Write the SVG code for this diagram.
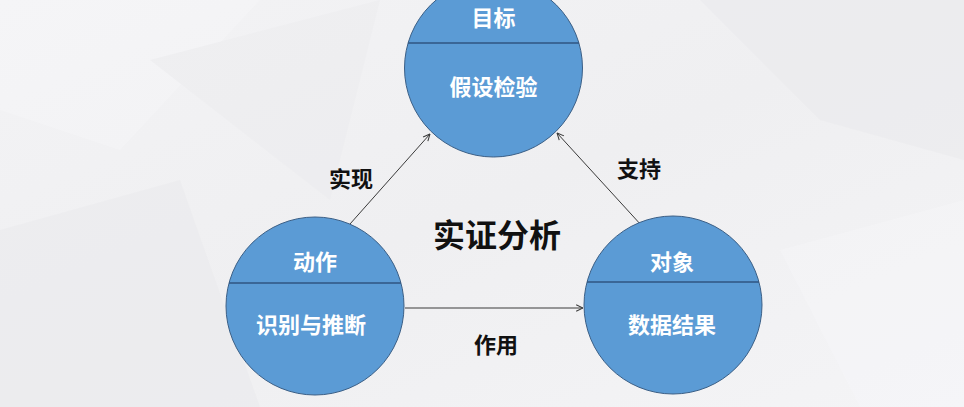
<svg xmlns="http://www.w3.org/2000/svg" width="964" height="407" viewBox="0 0 964 407">
<defs>
<linearGradient id="bg" x1="0" y1="0" x2="1" y2="1">
<stop offset="0" stop-color="#f3f3f5"/>
<stop offset="0.5" stop-color="#efeff1"/>
<stop offset="1" stop-color="#f4f4f6"/>
</linearGradient>
<marker id="arr" viewBox="0 0 10 10" refX="9.5" refY="5" markerWidth="8" markerHeight="8" markerUnits="userSpaceOnUse" orient="auto">
<path d="M1,1 L9.5,5 L1,9" fill="none" stroke="#3a3a3a" stroke-width="1.3"/>
</marker>
<style>
.node circle{fill:#5b9bd5;stroke:#3b5f86;stroke-width:1}
.node line{stroke:#2f5581;stroke-width:1.6}
.wt{font-family:"Noto Sans CJK SC","Noto Sans",sans-serif;font-weight:700;font-size:22px;fill:#ffffff;text-anchor:middle;dominant-baseline:central}
.bt{font-family:"Noto Sans CJK SC","Noto Sans",sans-serif;font-weight:700;font-size:22px;fill:#111111;text-anchor:middle;dominant-baseline:central}
.conn line{stroke:#3a3a3a;stroke-width:1;marker-end:url(#arr)}
</style>
</defs>
<rect width="964" height="407" fill="url(#bg)"/>
<g opacity="0.3">
<polygon points="0,0 260,0 120,150 0,110" fill="#fafafc"/>
<polygon points="700,0 964,0 964,160 820,120" fill="#e6e6e9"/>
<polygon points="0,230 180,180 260,407 0,407" fill="#e6e6e9"/>
<polygon points="780,250 964,200 964,407 860,407" fill="#fafafc"/>
<polygon points="150,60 380,0 330,200" fill="#e9e9ec"/>
</g>
<g class="conn" id="connectors">
<line x1="350" y1="224" x2="430" y2="134"/>
<line x1="642" y1="226" x2="557" y2="133"/>
<line x1="405" y1="308" x2="583" y2="308"/>
</g>
<g id="labels">
<text class="bt" x="351" y="177">实现</text>
<text class="bt" x="639" y="167">支持</text>
<text class="bt" x="496" y="343">作用</text>
<text class="bt" x="497" y="233" style="font-size:32px">实证分析</text>
</g>
<g class="node" id="node-target">
<circle cx="493.5" cy="68" r="89"/>
<line x1="408" y1="43" x2="579" y2="43"/>
<text class="wt" x="493.5" y="16">目标</text>
<text class="wt" x="493.5" y="85">假设检验</text>
</g>
<g class="node" id="node-action">
<circle cx="315" cy="306" r="89"/>
<line x1="229" y1="283" x2="401" y2="283"/>
<text class="wt" x="315" y="260">动作</text>
<text class="wt" x="311" y="323">识别与推断</text>
</g>
<g class="node" id="node-object">
<circle cx="673" cy="305" r="89"/>
<line x1="587" y1="282" x2="759" y2="282"/>
<text class="wt" x="672" y="260">对象</text>
<text class="wt" x="672" y="323">数据结果</text>
</g>
</svg>
